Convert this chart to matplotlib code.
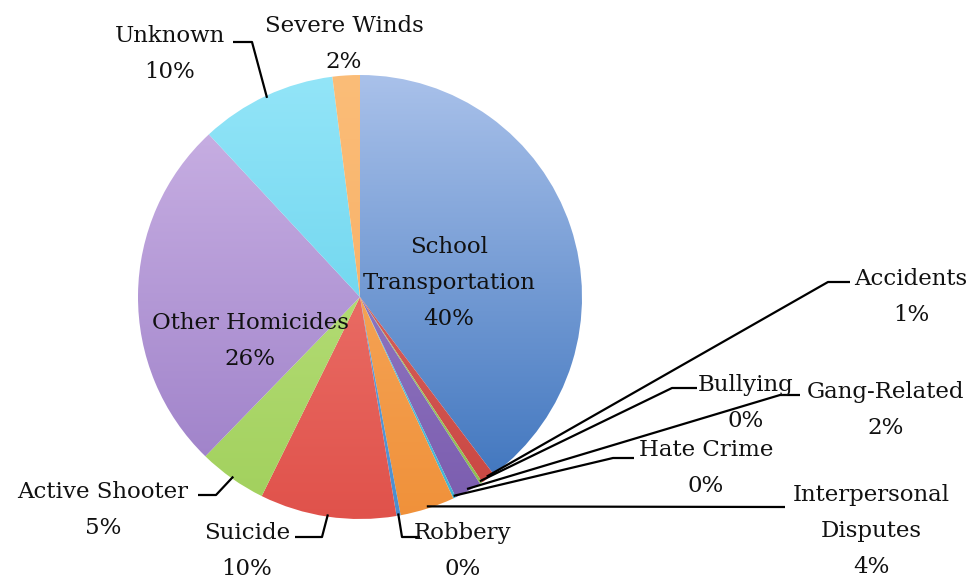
import numpy as np
import matplotlib
matplotlib.use("Agg")
import matplotlib.pyplot as plt
from matplotlib.colors import LinearSegmentedColormap

# slices, clockwise from 12 o'clock
categories = ['School\nTransportation', 'Accidents', 'Bullying', 'Gang-Related',
              'Hate Crime', 'Interpersonal\nDisputes', 'Robbery', 'Suicide',
              'Active Shooter', 'Other Homicides', 'Unknown', 'Severe Winds']
values = [40, 1, 0.2, 2, 0.2, 4, 0.3, 10, 5, 26, 10, 2]

# (top colour, bottom colour) of each slice's gradient
colors_top = ['#a9c1ea', '#e07a76', '#b9d98a', '#a28bd0', '#7fd6ea', '#f9b46e',
              '#7fb2e0', '#f2847c', '#c3e68a', '#cdb5e6', '#93e5f8', '#fbbd78']
colors_bot = ['#3870bb', '#c9443f', '#8cbd4c', '#7a5cae', '#3fb3d3', '#f0913a',
              '#4a8ecf', '#e0524b', '#a1d05c', '#9a7cc6', '#55cbe8', '#f6a85c']

# pixel layout of the reference (center and radius of the pie)
CX, CY, R = 360, 297, 222
W, H = 974, 582


def px(x, y):
    return (x - CX) / R, (CY - y) / R


fig = plt.figure(figsize=(W / 100, H / 100), dpi=100)
ax = fig.add_axes([0, 0, 1, 1])

wedges, _ = ax.pie(values, startangle=90, counterclock=False, radius=1,
                   wedgeprops=dict(linewidth=0))

grad = np.linspace(0, 1, 256).reshape(-1, 1)
for w, ct, cb in zip(wedges, colors_top, colors_bot):
    cmap = LinearSegmentedColormap.from_list('g', [cb, ct])
    im = ax.imshow(grad, cmap=cmap, extent=(-1, 1, -1, 1), origin='lower',
                   aspect='auto', zorder=1, interpolation='bilinear')
    im.set_clip_path(w)
    w.set_facecolor('none')

total = sum(values)
pct = ['%d%%' % round(v / total * 100) for v in values]

# text block centres (pixels) and leader elbows (pixels)
label_pos = {
    'School\nTransportation': (449, 283),
    'Accidents': (911, 297),
    'Bullying': (746, 403),
    'Gang-Related': (886, 410),
    'Hate Crime': (706, 468),
    'Interpersonal\nDisputes': (871, 531),
    'Robbery': (463, 551),
    'Suicide': (247, 551),
    'Active Shooter': (103, 510),
    'Other Homicides': (250, 341),
    'Unknown': (170, 54),
    'Severe Winds': (344, 44),
}
leaders = {
    'Accidents': [(828, 282), (850, 282)],
    'Bullying': [(672, 388), (697, 388)],
    'Gang-Related': [(780, 395), (800, 395)],
    'Hate Crime': [(613, 458), (634, 458)],
    'Interpersonal\nDisputes': [(785, 507)],
    'Robbery': [(402, 537), (420, 537)],
    'Suicide': [(322, 537), (295, 537)],
    'Active Shooter': [(216, 495), (198, 495)],
    'Unknown': [(252, 42), (233, 42)],
}

for w, name, p in zip(wedges, categories, pct):
    tx, ty = px(*label_pos[name])
    ax.text(tx, ty, name + '\n' + p, ha='center', va='center',
            fontsize=16.5, family='DejaVu Serif', color='#111111',
            linespacing=1.8, zorder=5)
    if name in leaders:
        mid = np.deg2rad((w.theta1 + w.theta2) / 2)
        pts = [(0.99 * np.cos(mid), 0.99 * np.sin(mid))] + [px(*q) for q in leaders[name]]
        xs, ys = zip(*pts)
        ax.plot(xs, ys, color='black', lw=1.6, zorder=4, solid_capstyle='butt')

ax.set_xlim(-CX / R, (W - CX) / R)
ax.set_ylim(-(H - CY) / R, CY / R)
ax.set_aspect('auto')
ax.axis('off')

fig.savefig('out.png', dpi=100, facecolor='white')
